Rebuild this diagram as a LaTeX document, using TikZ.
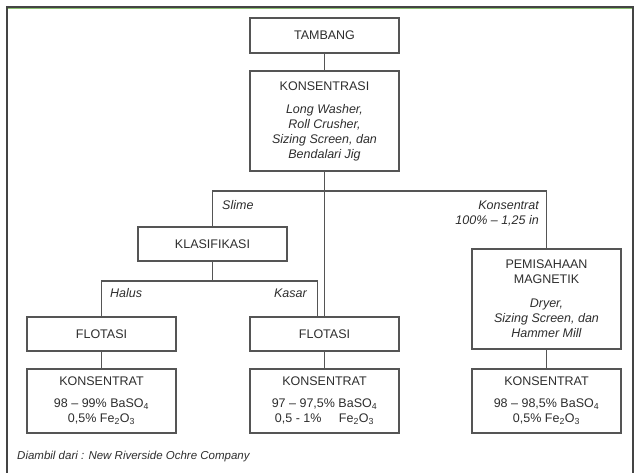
\documentclass[tikz,border=0pt]{standalone}
\usepackage{fontspec}
\setmainfont{Liberation Sans}
\definecolor{framegray}{HTML}{444444}
\definecolor{ink}{HTML}{2E2E2E}
\definecolor{rulegray}{HTML}{555555}
\definecolor{edgegreen}{HTML}{8CC070}
\tikzset{
  box/.style={draw=rulegray, line width=1.3pt, minimum width=149pt, align=center,
    inner sep=0pt, text=ink, font=\fontsize{12.5}{15}\selectfont},
  lab/.style={text=ink, inner sep=0pt, font=\fontsize{12.5}{15}\selectfont\itshape},
  link/.style={draw=rulegray, line width=1.3pt},
}
\begin{document}
\begin{tikzpicture}[x=1pt,y=-1pt]
\useasboundingbox (0,0) rectangle (638,473);
\fill[white] (0,0) rectangle (638,473);
% outer frame, open at the bottom
\draw[framegray, line width=2pt] (7,473) -- (7,7) -- (633,7) -- (633,473);
\draw[edgegreen, line width=0.6pt] (8,8.6) -- (632,8.6);

% process boxes
\node[box, minimum height=35pt] (tam) at (324.5,35.5) {TAMBANG};
\node[box, minimum height=100pt] (kons) at (324.5,121)
  {KONSENTRASI\\[8pt]\textit{Long Washer,}\\\textit{Roll Crusher,}\\\textit{Sizing Screen, dan}\\\textit{Bendalari Jig}};
\node[box, minimum height=34pt] (kl) at (212.5,244) {KLASIFIKASI};
\node[box, minimum height=34pt] (fl1) at (101.5,334) {FLOTASI};
\node[box, minimum height=34pt] (fl2) at (324.5,334) {FLOTASI};
\node[box, minimum height=100pt] (pm) at (546.5,299)
  {PEMISAHAAN\\MAGNETIK\\[9pt]\textit{Dryer,}\\\textit{Sizing Screen, dan}\\\textit{Hammer Mill}};
\node[box, minimum height=64pt] (k1) at (101.5,401)
  {KONSENTRAT\\[7pt]98 – 99\% BaSO\textsubscript{4}\\0,5\% Fe\textsubscript{2}O\textsubscript{3}};
\node[box, minimum height=64pt] (k2) at (324.5,401)
  {KONSENTRAT\\[7pt]97 – 97,5\% BaSO\textsubscript{4}\\0,5 - 1\%\hspace{1.4em}Fe\textsubscript{2}O\textsubscript{3}};
\node[box, minimum height=64pt] (k3) at (546.5,401)
  {KONSENTRAT\\[7pt]98 – 98,5\% BaSO\textsubscript{4}\\0,5\% Fe\textsubscript{2}O\textsubscript{3}};

% branch labels
\node[lab, anchor=west] (lslime) at (222,205) {Slime};
\node[lab, anchor=east] (lkons) at (539,205) {Konsentrat};
\node[lab, anchor=east] (lsize) at (539,221) {100\% – 1,25 in};
\node[lab, anchor=west] (lhalus) at (110,293) {Halus};
\node[lab, anchor=east] (lkasar) at (307,293) {Kasar};
\node[lab, anchor=west, font=\fontsize{11.5}{13}\selectfont\itshape] (src) at (17,457)
  {Diambil dari : New Riverside Ochre Company};

% connectors
\coordinate (split) at (324.5,191);
\coordinate (fork) at (212.5,281);
\draw[link] (tam) -- (kons);
\draw[link] (kons) -- (fl2);
\draw[link] (kl.north) |- (split) -| (pm.north);
\draw[link] (kl) -- (fork);
\draw[link] (fl1.north) |- (fork) -| ([xshift=68pt]fl2.north west);
\draw[link] (fl1) -- (k1);
\draw[link] (fl2) -- (k2);
\draw[link] (pm) -- (k3);
\end{tikzpicture}
\end{document}
